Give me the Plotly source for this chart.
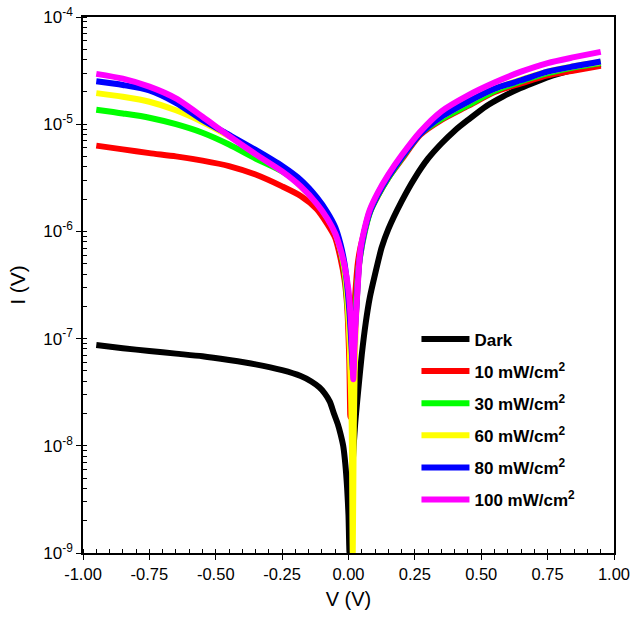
import plotly.graph_objects as go

# ---- data ----
v_dark = [-0.95, -0.85, -0.75, -0.65, -0.55, -0.45, -0.35, -0.25, -0.18, -0.14, -0.11, -0.09,
          -0.07, -0.055, -0.04, -0.03, -0.02, -0.012, -0.005, 0.0, 0.004, 0.015, 0.025, 0.036,
          0.05, 0.065, 0.08, 0.1, 0.125, 0.15, 0.2, 0.25, 0.3, 0.35, 0.4, 0.45, 0.52, 0.58,
          0.646, 0.71, 0.77, 0.85, 0.95]
i_dark = [8.71e-8, 8.13e-8, 7.67e-8, 7.24e-8, 6.84e-8, 6.31e-8, 5.75e-8, 5.07e-8, 4.47e-8, 3.98e-8,
          3.51e-8, 3.09e-8, 2.57e-8, 2.0e-8, 1.585e-8, 1.29e-8, 1.0e-8, 6.76e-9, 3.98e-9, 2.24e-9,
          1.0e-9, 6.31e-9, 1.585e-8, 3.16e-8, 7.08e-8, 1.41e-7, 2.40e-7, 3.98e-7, 7.08e-7, 1.05e-6,
          1.905e-6, 3.16e-6, 4.79e-6, 6.61e-6, 8.71e-6, 1.096e-5, 1.48e-5, 1.80e-5, 2.16e-5,
          2.51e-5, 2.85e-5, 3.24e-5, 3.63e-5]

v_10 = [-0.95, -0.85, -0.75, -0.65, -0.55, -0.45, -0.35, -0.25, -0.18, -0.12, -0.08, -0.05, -0.03,
        -0.015, -0.005, 0.003, 0.007, 0.012, 0.018, 0.025, 0.035, 0.045, 0.06, 0.08, 0.11, 0.15, 0.2,
        0.27, 0.35, 0.45, 0.55, 0.65, 0.75, 0.85, 0.95]
i_10 = [6.31e-6, 5.82e-6, 5.37e-6, 5.01e-6, 4.57e-6, 4.07e-6, 3.39e-6, 2.63e-6, 2.14e-6, 1.62e-6,
        1.175e-6, 8.71e-7, 5.62e-7, 3.55e-7, 2.0e-7, 6.31e-8, 1.86e-8, 5.01e-8, 1.26e-7, 2.51e-7,
        5.01e-7, 7.08e-7, 1.0e-6, 1.51e-6, 2.14e-6, 3.16e-6, 4.68e-6, 7.94e-6, 1.096e-5, 1.48e-5,
        2.0e-5, 2.40e-5, 2.85e-5, 3.16e-5, 3.51e-5]

v_30 = [-0.95, -0.85, -0.75, -0.65, -0.55, -0.45, -0.35, -0.25, -0.18, -0.12, -0.08, -0.05, -0.03,
        -0.015, -0.005, 0.005, 0.012, 0.017, 0.022, 0.03, 0.04, 0.06, 0.08, 0.11, 0.15, 0.2, 0.27,
        0.35, 0.45, 0.55, 0.65, 0.75, 0.85, 0.95]
i_30 = [1.365e-5, 1.26e-5, 1.15e-5, 1.0e-5, 8.32e-6, 6.46e-6, 4.79e-6, 3.63e-6, 2.75e-6, 1.905e-6,
        1.35e-6, 9.77e-7, 6.61e-7, 4.17e-7, 2.24e-7, 1.0e-7, 3.16e-8, 6.31e-8, 1.26e-7, 2.51e-7,
        5.01e-7, 9.55e-7, 1.48e-6, 2.14e-6, 3.16e-6, 4.79e-6, 8.13e-6, 1.12e-5, 1.51e-5, 2.04e-5,
        2.51e-5, 2.99e-5, 3.39e-5, 3.72e-5]

v_60 = [-0.95, -0.85, -0.75, -0.65, -0.55, -0.45, -0.35, -0.25, -0.18, -0.12, -0.08, -0.05, -0.03,
        -0.015, -0.005, 0.005, 0.012, 0.016, 0.02, 0.025, 0.03, 0.04, 0.06, 0.08, 0.11, 0.15, 0.2,
        0.27, 0.35, 0.45, 0.55, 0.65, 0.75, 0.85, 0.95]
i_60 = [1.95e-5, 1.80e-5, 1.62e-5, 1.35e-5, 1.05e-5, 7.76e-6, 5.62e-6, 3.80e-6, 2.63e-6, 1.86e-6,
        1.35e-6, 9.77e-7, 6.76e-7, 4.47e-7, 2.51e-7, 7.94e-8, 1.585e-8, 1.0e-9, 1.585e-8, 7.94e-8,
        2.0e-7, 5.01e-7, 1.0e-6, 1.55e-6, 2.24e-6, 3.31e-6, 5.01e-6, 8.32e-6, 1.175e-5, 1.62e-5,
        2.14e-5, 2.60e-5, 3.09e-5, 3.47e-5, 3.80e-5]

v_80 = [-0.95, -0.85, -0.75, -0.65, -0.55, -0.45, -0.35, -0.25, -0.18, -0.12, -0.08, -0.05, -0.03,
        -0.015, -0.005, 0.005, 0.012, 0.017, 0.022, 0.03, 0.04, 0.06, 0.08, 0.11, 0.15, 0.2, 0.27,
        0.35, 0.45, 0.55, 0.65, 0.75, 0.85, 0.95]
i_80 = [2.51e-5, 2.32e-5, 2.07e-5, 1.585e-5, 1.096e-5, 7.94e-6, 5.75e-6, 4.07e-6, 3.02e-6, 2.09e-6,
        1.51e-6, 1.096e-6, 7.59e-7, 5.01e-7, 3.16e-7, 1.585e-7, 7.94e-8, 5.01e-8, 1.0e-7, 2.0e-7,
        5.01e-7, 1.0e-6, 1.51e-6, 2.19e-6, 3.24e-6, 4.90e-6, 8.13e-6, 1.175e-5, 1.62e-5, 2.14e-5,
        2.57e-5, 3.09e-5, 3.47e-5, 3.85e-5]

v_100 = [-0.95, -0.85, -0.75, -0.65, -0.55, -0.45, -0.35, -0.25, -0.18, -0.12, -0.08, -0.05, -0.03,
         -0.015, 0.0, 0.008, 0.014, 0.018, 0.022, 0.028, 0.035, 0.045, 0.06, 0.08, 0.11, 0.15, 0.2,
         0.27, 0.35, 0.45, 0.55, 0.65, 0.75, 0.85, 0.95]
i_100 = [2.95e-5, 2.66e-5, 2.24e-5, 1.74e-5, 1.175e-5, 7.76e-6, 5.25e-6, 3.63e-6, 2.63e-6, 1.82e-6,
         1.32e-6, 9.55e-7, 6.76e-7, 4.79e-7, 2.82e-7, 1.585e-7, 7.94e-8, 4.17e-8, 7.94e-8, 1.585e-7,
         3.16e-7, 6.76e-7, 1.05e-6, 1.585e-6, 2.29e-6, 3.39e-6, 5.13e-6, 8.51e-6, 1.32e-5, 1.86e-5,
         2.45e-5, 3.09e-5, 3.72e-5, 4.22e-5, 4.73e-5]

series_names = ["Dark", "10 mW/cm<sup>2</sup>", "30 mW/cm<sup>2</sup>", "60 mW/cm<sup>2</sup>",
                "80 mW/cm<sup>2</sup>", "100 mW/cm<sup>2</sup>"]
series_colors = ["#000000", "#FF0000", "#00FF00", "#FFFF00", "#0000FF", "#FF00FF"]
series_x = [v_dark, v_10, v_30, v_60, v_80, v_100]
series_y = [i_dark, i_10, i_30, i_60, i_80, i_100]

x_tick_vals = [-1.0, -0.75, -0.5, -0.25, 0.0, 0.25, 0.5, 0.75, 1.0]
x_tick_text = ["-1.00", "-0.75", "-0.50", "-0.25", "0.00", "0.25", "0.50", "0.75", "1.00"]
y_tick_vals = [1e-9, 1e-8, 1e-7, 1e-6, 1e-5, 1e-4]
y_tick_text = ["10<sup>-9</sup>", "10<sup>-8</sup>", "10<sup>-7</sup>", "10<sup>-6</sup>",
               "10<sup>-5</sup>", "10<sup>-4</sup>"]
y_minor_vals = [k * d for d in [1e-9, 1e-8, 1e-7, 1e-6, 1e-5] for k in range(1, 11)]

FONT = "Liberation Sans, Arial, sans-serif"

fig = go.Figure()
for idx, (name, col, xs, ys) in enumerate(zip(series_names, series_colors, series_x, series_y)):
    fig.add_trace(go.Scatter(x=xs, y=ys, mode="lines", name=name, legendgroup=f"g{idx}",
                             line=dict(color=col, width=6, shape="spline", smoothing=0.7)))

fig.update_layout(
    width=633, height=625,
    margin=dict(l=83, r=19, t=17, b=72),
    paper_bgcolor="white", plot_bgcolor="white",
    font=dict(family=FONT, color="black"),
    legend=dict(x=0.628, y=0.432, xanchor="left", yanchor="top",
                bgcolor="rgba(0,0,0,0)", font=dict(size=17, weight="bold", family=FONT),
                tracegroupgap=7, itemwidth=48),
    showlegend=True,
)
fig.update_xaxes(
    range=[-1, 1], tickvals=x_tick_vals, ticktext=x_tick_text, automargin=False,
    showgrid=False, zeroline=False, showline=True, linecolor="black", linewidth=1.5,
    mirror=True, ticks="outside", ticklen=5, tickwidth=1.2, tickcolor="black",
    tickfont=dict(size=16.5),
    minor=dict(ticks="inside", ticklen=4, dtick=0.05, tick0=0, tickcolor="black", tickwidth=1, showgrid=False),
    title=dict(text="V (V)", font=dict(size=20), standoff=10),
)
fig.update_yaxes(
    type="log", range=[-9, -4], tickvals=y_tick_vals, ticktext=y_tick_text, automargin=False,
    showgrid=False, zeroline=False, showline=True, linecolor="black", linewidth=1.5,
    mirror=True, ticks="outside", ticklen=5, tickwidth=1.2, tickcolor="black",
    tickfont=dict(size=17),
    minor=dict(ticks="inside", ticklen=4, tickvals=y_minor_vals, tickcolor="black", tickwidth=1, showgrid=False),
    title=dict(text="I (V)", font=dict(size=21), standoff=12),
)

fig.write_html("out.html", config={"displayModeBar": False},
               post_script="document.body.style.margin='0';document.body.style.overflow='hidden';")
